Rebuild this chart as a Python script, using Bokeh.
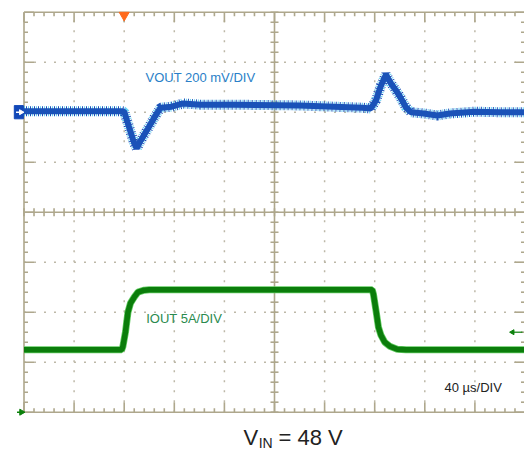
from bokeh.plotting import figure
from bokeh.models import Range1d
from bokeh.core.properties import value
from bokeh.embed import file_html
from bokeh.resources import INLINE

# ---------------- data ----------------
# time in microseconds (40 us/div, 10 divisions)
time_vout = [0, 40, 78, 80, 84, 88, 90, 93, 99, 104, 109, 118, 127, 141, 168,
             220, 270, 277, 281, 285, 289, 293, 297, 301, 305, 309, 319, 330,
             340, 360, 380, 400]
# VOUT deviation in mV (200 mV/div)
vout_mv = [4, 4, 4, 2, -62, -125, -145, -115, -65, -22, 18, 22, 35, 30, 30,
           27, 18, 15, 47, 107, 150, 115, 87, 55, 19, 0, -5, -13,
           -5, 2, 0, 0]

time_iout = [0, 78, 79, 81, 83, 85, 88, 91, 96, 100, 200, 278, 279, 281,
             283, 285, 288, 292, 298, 305, 400]
# IOUT in A (5 A/div)
iout_a = [6.25, 6.25, 6.6, 8.0, 10.0, 10.9, 11.5, 12.0, 12.2, 12.25, 12.25,
          12.25, 11.8, 10.2, 8.5, 7.7, 7.0, 6.6, 6.3, 6.25, 6.25]

VOUT_SCALE = 200.0   # mV/div
VOUT_REF = 2.0       # div position of VOUT marker
IOUT_SCALE = 5.0     # A/div
IOUT_REF = -4.0      # div position of IOUT marker
TIME_DIV = 40.0      # us/div
N_HDIV = 10
N_VDIV = 8

vout_label = "VOUT 200 mV/DIV"
iout_label = "IOUT 5A/DIV"
time_label = "40 \u00b5s/DIV"

# ---------------- figure ----------------
PX_X = 50.1 / TIME_DIV      # px per us
PX_Y = 50.0                 # px per div
W, H = 524, 450
x_start = -23.5 / PX_X
y_top = 211.7 / PX_Y
p = figure(width=W, height=H,
           x_range=Range1d(x_start, x_start + W / PX_X),
           y_range=Range1d(y_top - H / PX_Y, y_top),
           output_backend="svg", toolbar_location=None,
           x_axis_location=None, y_axis_location=None,
           min_border=0, outline_line_color=None,
           background_fill_color="white", border_fill_color="white")
p.grid.visible = False

GRID = "#aea78c"
DOT = "#bdb8a8"
T_END = TIME_DIV * N_HDIV
T_MID = T_END / 2
Y_TOP = N_VDIV / 2

# dotted division lines
hx, hy = [], []
for j in range(-3, 4):
    if j == 0:
        continue
    hx.append([0, T_END]); hy.append([j, j])
for k in range(1, N_HDIV):
    if k == 5:
        continue
    hx.append([k * TIME_DIV, k * TIME_DIV]); hy.append([-Y_TOP, Y_TOP])
p.multi_line(hx, hy, line_color=DOT, line_width=1.5, line_dash="2 8")

# border and centre lines
p.multi_line([[0, T_END], [0, T_END], [0, 0], [T_END, T_END], [T_MID, T_MID], [0, T_END]],
             [[Y_TOP, Y_TOP], [-Y_TOP, -Y_TOP], [-Y_TOP, Y_TOP], [-Y_TOP, Y_TOP], [-Y_TOP, Y_TOP], [0, 0]],
             line_color=GRID, line_width=1.6)

# ticks
minor_px, major_px = 4.0, 10.0
x0s, y0s, x1s, y1s = [], [], [], []
step_t = TIME_DIV / 5
for k in range(0, N_HDIV * 5 + 1):
    t = k * step_t
    L = (major_px if k % 5 == 0 else minor_px) / PX_Y
    x0s += [t, t]; y0s += [Y_TOP, -Y_TOP]; x1s += [t, t]; y1s += [Y_TOP - L, -Y_TOP + L]
    l = minor_px / PX_Y
    x0s.append(t); y0s.append(-l); x1s.append(t); y1s.append(l)
for j in range(0, N_VDIV * 5 + 1):
    d = -Y_TOP + j * 0.2
    L = (major_px if j % 5 == 0 else minor_px) / PX_X
    x0s += [0, T_END]; y0s += [d, d]; x1s += [L, T_END - L]; y1s += [d, d]
    l = minor_px / PX_X
    x0s.append(T_MID - l); y0s.append(d); x1s.append(T_MID + l); y1s.append(d)
p.segment(x0s, y0s, x1s, y1s, line_color=GRID, line_width=1.6)

# ---------------- traces ----------------
vout_div = [VOUT_REF + v / VOUT_SCALE for v in vout_mv]
iout_div = [IOUT_REF + a / IOUT_SCALE for a in iout_a]

# ripple-like texture: striped wide strokes under a solid core
p.line(time_vout, vout_div, line_color="#36c0f0", line_width=10, line_dash="1 3",
       line_alpha=0.75)
p.line(time_vout, vout_div, line_color="#1a52b8", line_width=10, line_dash="1 3",
       line_dash_offset=2)
p.line(time_vout, vout_div, line_color="#1a52b8", line_width=6)

p.line(time_iout, iout_div, line_color="#62cc62", line_width=7)
p.line(time_iout, iout_div, line_color="#0b7d0b", line_width=5.5)

# ---------------- markers ----------------
px2t = 1 / PX_X
px2d = 1 / PX_Y
# VOUT reference marker (blue box with arrow)
p.quad(left=[-9.7 * px2t], right=[-0.6 * px2t], bottom=[VOUT_REF - 6.6 * px2d],
       top=[VOUT_REF + 6.6 * px2d], fill_color="#1248b8", line_color="#1248b8")
p.segment([-8 * px2t], [VOUT_REF], [-3 * px2t], [VOUT_REF], line_color="white", line_width=1.5)
p.scatter([-3 * px2t], [VOUT_REF], marker="triangle", angle=-1.5708, size=5,
          fill_color="white", line_color="white")
# IOUT reference marker (green arrow)
p.segment([-7 * px2t], [IOUT_REF], [-2 * px2t], [IOUT_REF], line_color="#0b800b", line_width=1.5)
p.scatter([-2.5 * px2t], [IOUT_REF], marker="triangle", angle=-1.5708, size=6,
          fill_color="#0b800b", line_color="#0b800b")
# trigger level arrow on the right
trig_level = IOUT_REF + 8.0 / IOUT_SCALE
p.segment([(511 - 23.5) * px2t], [trig_level], [(522 - 23.5) * px2t], [trig_level],
          line_color="#0b800b", line_width=1.2)
p.scatter([(512 - 23.5) * px2t], [trig_level], marker="triangle", angle=1.5708, size=5,
          fill_color="#0b800b", line_color="#0b800b")
# trigger position marker (orange)
p.scatter([2 * TIME_DIV], [Y_TOP - 3 * px2d], marker="inverted_triangle", size=10,
          fill_color="#ff6a1c", line_color="#ff6a1c")

# ---------------- texts ----------------
F = value("Liberation Sans")
p.text([97], [2.69], text=[vout_label], text_font=F, text_font_size="13px",
       text_color="#2a7fc8", text_baseline="middle", text_align="left")
p.text([97.6], [-2.13], text=[iout_label], text_font=F, text_font_size="13px",
       text_color="#2a8a4e", text_baseline="middle", text_align="left")
p.text([335.7], [-3.51], text=[time_label], text_font=F, text_font_size="13px",
       text_color="#222222", text_baseline="middle", text_align="left")
p.text([175.2], [-4.5], text=["V"], text_font=F, text_font_size="22px",
       text_color="#222222", text_baseline="middle", text_align="left")
p.text([187.4], [-4.62], text=["IN"], text_font=F, text_font_size="14px",
       text_color="#222222", text_baseline="middle", text_align="left")
p.text([203.2], [-4.5], text=["= 48 V"], text_font=F, text_font_size="22px",
       text_color="#222222", text_baseline="middle", text_align="left")

html = file_html(p, INLINE)
html = html.replace("</head>", "<style>html,body{overflow:hidden;}</style></head>", 1)
open("out.html", "w").write(html)
